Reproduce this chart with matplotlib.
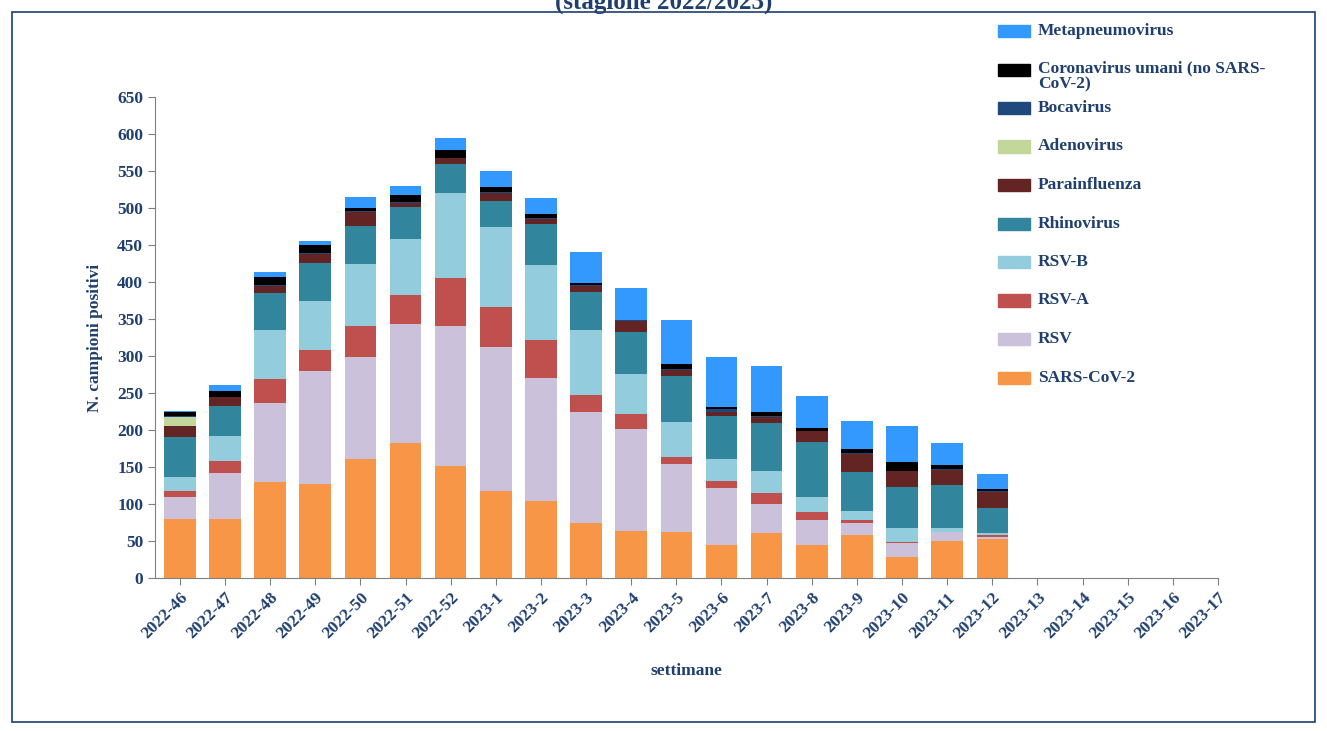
import matplotlib
matplotlib.use("Agg")
import matplotlib.pyplot as plt
import numpy as np
from matplotlib.patches import Rectangle

weeks = ["2022-46","2022-47","2022-48","2022-49","2022-50","2022-51","2022-52",
         "2023-1","2023-2","2023-3","2023-4","2023-5","2023-6","2023-7","2023-8",
         "2023-9","2023-10","2023-11","2023-12","2023-13","2023-14","2023-15","2023-16","2023-17"]
series_names = ["SARS-CoV-2","RSV","RSV-A","RSV-B","Rhinovirus","Parainfluenza",
                "Adenovirus","Bocavirus","Coronavirus umani (no SARS-\nCoV-2)","Metapneumovirus"]
colors = ["#F79646","#CCC1DA","#C0504D","#93CDDD","#31859C","#632523",
          "#C4D79B","#1F497D","#000000","#3399FF"]
# cumulative tops (19 weeks with data)
cum_sars  = [80,80,130,127,161,183,151,118,104,75,64,62,45,61,45,58,29,50,53]
cum_rsv   = [110,142,237,280,298,343,341,312,270,225,201,154,121,100,79,75,47,62,55]
cum_rsva  = [118,158,269,308,341,383,406,366,321,247,222,164,131,115,89,78,49,62,58]
cum_rsvb  = [137,192,335,375,425,458,520,474,423,335,276,211,161,145,109,90,67,68,61]
cum_rhino = [190,232,385,426,476,501,559,509,478,386,333,273,219,210,184,143,123,126,94]
cum_para  = [205,244,395,438,494,507,567,520,485,395,347,281,225,218,198,168,144,146,116]
cum_adeno = [218,244,395,438,494,507,567,520,485,395,347,281,225,218,198,168,144,146,116]
cum_boca  = [219,245,396,439,496,508,568,521,486,396,348,283,229,219,199,169,145,147,118]
cum_coro  = [225,253,407,450,500,517,579,529,492,399,349,289,231,224,203,174,157,153,120]
cum_meta  = [226,261,413,456,515,530,595,550,513,440,392,349,299,286,246,212,205,182,140]
cums = [cum_sars,cum_rsv,cum_rsva,cum_rsvb,cum_rhino,cum_para,cum_adeno,cum_boca,cum_coro,cum_meta]

fig = plt.figure(figsize=(13.27,7.31), dpi=100)
W,H = 1327,731
ax = fig.add_axes([155/W, 1-578/H, (1218-155)/W, (578-97)/H])
n = len(cum_sars)
x = np.arange(n)
prev = np.zeros(n)
for c, col in zip(cums, colors):
    c = np.array(c, float)
    ax.bar(x, c-prev, bottom=prev, width=0.7, color=col, edgecolor="none")
    prev = c
ax.set_xlim(-0.55, len(weeks)-1.35)
ax.set_ylim(0, 650)
ax.set_yticks(range(0, 651, 50))
ax.set_xticks(np.arange(len(weeks)))
ax.set_xticklabels(weeks, rotation=45, ha="right", rotation_mode="anchor")
ser = dict(family="Liberation Serif", weight="bold", color="#1F3F6F")
ax.tick_params(color="#808080", labelcolor="#1F3F6F", length=5)
for lab in ax.get_xticklabels()+ax.get_yticklabels():
    lab.set_fontfamily("Liberation Serif"); lab.set_fontweight("bold")
    lab.set_fontsize(12.5)
for s in ["top","right"]:
    ax.spines[s].set_visible(False)
for s in ["left","bottom"]:
    ax.spines[s].set_color("#808080")
ax.set_ylabel("N. campioni positivi", fontsize=12.5, labelpad=10, **ser)
ax.set_xlabel("settimane", fontsize=12.5, labelpad=15, **ser)

# legend drawn manually
names = series_names[::-1]; cols = colors[::-1]
for i,(nm,col) in enumerate(zip(names,cols)):
    yc = 31 + 38.5*i
    fig.patches.append(Rectangle((998/W, 1-(yc+6)/H), 32/W, 12/H, color=col, transform=fig.transFigure))
    if "\n" in nm:
        fig.text(1038/W, 1-(yc-9)/H, nm, va="top", ha="left", fontsize=12.5, linespacing=1.0, **ser)
    else:
        fig.text(1038/W, 1-yc/H, nm, va="center", ha="left", fontsize=12.5, **ser)

fig.text(0.5, 1-2/H, "(stagione 2022/2023)", ha="center", va="center", fontsize=18, family="Liberation Serif", weight="bold", color="#1F3F6F")
fig.patches.append(Rectangle((12/W, 1-722/H), (1315-12)/W, (722-12)/H, fill=False, edgecolor="#1F3F6F", lw=1.2, transform=fig.transFigure))
fig.savefig("out.png", dpi=100)
